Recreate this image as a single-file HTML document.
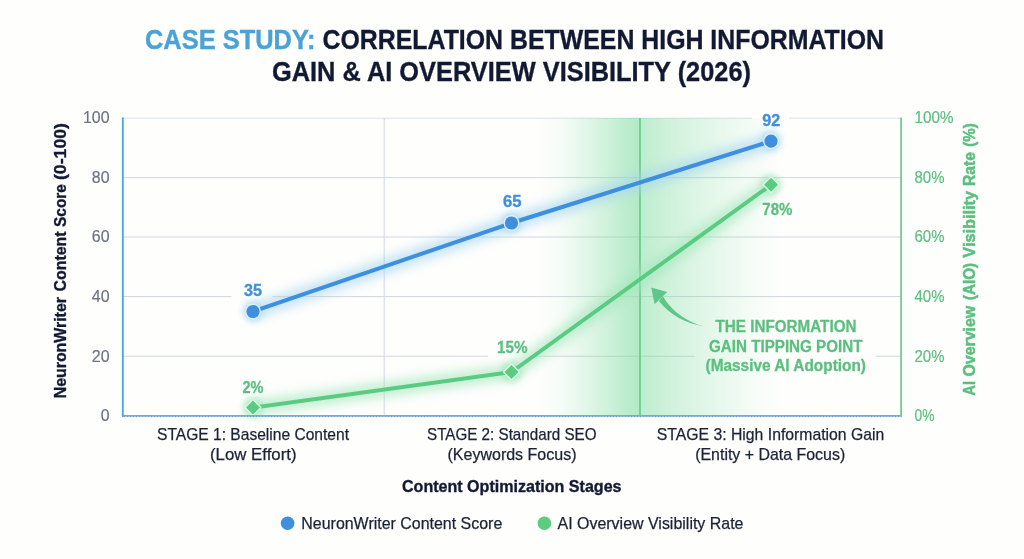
<!DOCTYPE html>
<html lang="en">
<head>
<meta charset="utf-8">
<title>Case Study: Correlation Between High Information Gain &amp; AI Overview Visibility (2026)</title>
<style>
html,body{margin:0;padding:0;background:#fefefd;}
body{width:1024px;height:559px;overflow:hidden;font-family:"Liberation Sans",sans-serif;}
svg{display:block;}
text{font-family:"Liberation Sans",sans-serif;}
.b{font-weight:700;}
.dk{fill:#121a33;stroke:#121a33;stroke-width:0.35px;}
.ax{fill:#6b7485;font-size:16.2px;stroke:#6b7485;stroke-width:0.2px;}
.gx{fill:#5bbf7f;font-size:16.2px;stroke:#5bbf7f;stroke-width:0.2px;}
.cat{fill:#1b2237;font-size:16.4px;stroke:#1b2237;stroke-width:0.25px;}
.bl{fill:#3f8fdb;font-weight:700;font-size:15.8px;stroke:#3f8fdb;stroke-width:0.3px;}
.gl{fill:#5bbf7f;font-weight:700;font-size:16.4px;stroke:#5bbf7f;stroke-width:0.3px;}
</style>
</head>
<body>
<svg width="1024" height="559" viewBox="0 0 1024 559">
<defs>
  <linearGradient id="bandL" x1="0" y1="0" x2="1" y2="0">
    <stop offset="0" stop-color="#7fdca0" stop-opacity="0"/>
    <stop offset="0.2" stop-color="#7fdca0" stop-opacity="0.06"/>
    <stop offset="0.45" stop-color="#7fdca0" stop-opacity="0.21"/>
    <stop offset="0.7" stop-color="#7fdca0" stop-opacity="0.39"/>
    <stop offset="0.9" stop-color="#7fdca0" stop-opacity="0.54"/>
    <stop offset="1" stop-color="#7fdca0" stop-opacity="0.6"/>
  </linearGradient>
  <linearGradient id="bandR" x1="0" y1="0" x2="1" y2="0">
    <stop offset="0" stop-color="#7fdca0" stop-opacity="0.5"/>
    <stop offset="0.07" stop-color="#7fdca0" stop-opacity="0.46"/>
    <stop offset="0.25" stop-color="#7fdca0" stop-opacity="0.34"/>
    <stop offset="0.5" stop-color="#7fdca0" stop-opacity="0.21"/>
    <stop offset="0.75" stop-color="#7fdca0" stop-opacity="0.09"/>
    <stop offset="1" stop-color="#7fdca0" stop-opacity="0"/>
  </linearGradient>
  <filter id="glow" x="-20%" y="-20%" width="140%" height="140%">
    <feGaussianBlur stdDeviation="6"/>
  </filter>
  <filter id="glow2" x="-50%" y="-50%" width="200%" height="200%">
    <feGaussianBlur stdDeviation="3"/>
  </filter>
</defs>
<rect x="0" y="0" width="1024" height="559" fill="#fefefd"/>

<!-- title -->
<text x="145" y="49" class="b" font-size="27.8" textLength="170.5" lengthAdjust="spacingAndGlyphs" fill="#4ba2d7" stroke="#4ba2d7" stroke-width="0.4">CASE STUDY:</text>
<text x="322.5" y="49" class="b dk" font-size="27.8" textLength="561.5" lengthAdjust="spacingAndGlyphs">CORRELATION BETWEEN HIGH INFORMATION</text>
<text x="272" y="80.6" class="b dk" font-size="27.8" textLength="479" lengthAdjust="spacingAndGlyphs">GAIN &amp; AI OVERVIEW VISIBILITY (2026)</text>

<!-- grid -->
<g stroke="#d1d7df" stroke-width="1" fill="none">
  <path d="M123 118.2H752M789 118.2H901" stroke="#d7e2ee"/>
  <path d="M123 177.6H901"/>
  <path d="M123 237H901"/>
  <path d="M123 296.6H231.5M272.5 296.6H901"/>
  <path d="M123 356.2H488M534 356.2H694.6M875.6 356.2H901"/>
  <path d="M384.2 118V415"/>
</g>
<!-- green band -->
<rect x="540" y="118" width="100" height="297.5" fill="url(#bandL)"/>
<rect x="640" y="118" width="140" height="297.5" fill="url(#bandR)"/>

<path d="M640 118V415" stroke="#66cc8b" stroke-width="1.7" fill="none"/>

<!-- glows -->
<path d="M253 311.5L511.5 223L771 141.2" stroke="#a6d6f0" stroke-width="14" fill="none" filter="url(#glow)" opacity="0.7"/>
<path d="M253 407.6L511.5 372L771 184.8" stroke="#a3e6ba" stroke-width="14" fill="none" filter="url(#glow)" opacity="0.7"/>

<g filter="url(#glow2)" opacity="0.8">
  <circle cx="253" cy="311.5" r="10" fill="#a6d6f0"/>
  <circle cx="511.5" cy="223" r="10" fill="#a6d6f0"/>
  <circle cx="771" cy="141.1" r="10" fill="#a6d6f0"/>
  <circle cx="253" cy="407.6" r="10" fill="#a3e6ba"/>
  <circle cx="511.5" cy="372" r="10" fill="#a3e6ba"/>
  <circle cx="771" cy="184.8" r="10" fill="#a3e6ba"/>
</g>

<!-- lines -->
<path d="M253 311.5L511.5 223L771 141.2" stroke="#3f8fe0" stroke-width="4" fill="none" stroke-linejoin="round"/>
<path d="M253 407.6L511.5 372L771 184.8" stroke="#5acc81" stroke-width="4" fill="none" stroke-linejoin="round"/>

<!-- markers -->
<g fill="#3f8fe0" stroke="#def0fa" stroke-width="2.8" paint-order="stroke">
  <circle cx="253" cy="311.5" r="6.6"/>
  <circle cx="511.5" cy="223" r="6.6"/>
  <circle cx="771" cy="141.1" r="6.6"/>
</g>
<g fill="#5acc81" stroke="#def6e6" stroke-width="2.8" paint-order="stroke" stroke-linejoin="round">
  <path d="M253 400.6L260 407.6L253 414.6L246 407.6Z"/>
  <path d="M511.5 365L518.5 372L511.5 379L504.5 372Z"/>
  <path d="M771 177.8L778 184.8L771 191.8L764 184.8Z"/>
</g>

<!-- axes -->
<path d="M122 415.9H902" stroke="#84a9c8" stroke-width="1.8" fill="none"/>
<path d="M124 416.3H900" stroke="#4a9be0" stroke-width="0.9" stroke-dasharray="1 2" fill="none"/>
<path d="M122.8 117.5V416.8" stroke="#4aa2dc" stroke-width="1.8" fill="none"/>
<path d="M901.1 117.5V416.8" stroke="#6fcb90" stroke-width="1.8" fill="none"/>

<!-- data labels -->
<g lengthAdjust="spacingAndGlyphs">
<text x="244" y="296" class="bl" textLength="18" lengthAdjust="spacingAndGlyphs">35</text>
<text x="503" y="206.5" class="bl" textLength="18.5" lengthAdjust="spacingAndGlyphs">65</text>
<text x="762.3" y="125.5" class="bl" textLength="18" lengthAdjust="spacingAndGlyphs">92</text>
<text x="242.5" y="392.5" class="gl" textLength="21" lengthAdjust="spacingAndGlyphs">2%</text>
<text x="497" y="353.4" class="gl" textLength="30.5" lengthAdjust="spacingAndGlyphs">15%</text>
<text x="762.3" y="214.5" class="gl" textLength="30" lengthAdjust="spacingAndGlyphs">78%</text>
</g>

<!-- left axis ticks -->
<g class="ax" text-anchor="end">
  <text x="109.5" y="123.4" textLength="26.5" lengthAdjust="spacingAndGlyphs">100</text>
  <text x="109.5" y="182.9" textLength="17.7" lengthAdjust="spacingAndGlyphs">80</text>
  <text x="109.5" y="242.4" textLength="17.7" lengthAdjust="spacingAndGlyphs">60</text>
  <text x="109.5" y="301.9" textLength="17.7" lengthAdjust="spacingAndGlyphs">40</text>
  <text x="109.5" y="361.5" textLength="17.7" lengthAdjust="spacingAndGlyphs">20</text>
  <text x="109.5" y="421.3" textLength="8.8" lengthAdjust="spacingAndGlyphs">0</text>
</g>
<!-- right axis ticks -->
<g class="gx">
  <text x="914.5" y="123.4" textLength="39" lengthAdjust="spacingAndGlyphs">100%</text>
  <text x="914.5" y="182.9" textLength="30" lengthAdjust="spacingAndGlyphs">80%</text>
  <text x="914.5" y="242.4" textLength="30" lengthAdjust="spacingAndGlyphs">60%</text>
  <text x="914.5" y="301.9" textLength="30" lengthAdjust="spacingAndGlyphs">40%</text>
  <text x="914.5" y="361.5" textLength="30" lengthAdjust="spacingAndGlyphs">20%</text>
  <text x="914.5" y="421.3" textLength="20" lengthAdjust="spacingAndGlyphs">0%</text>
</g>

<!-- axis titles -->
<g>
<text transform="translate(66.3 398.3) rotate(-90)" class="b dk" font-size="17" textLength="101.2" lengthAdjust="spacingAndGlyphs">NeuronWriter</text>
<text transform="translate(66.3 291.4) rotate(-90)" class="b dk" font-size="17" textLength="59.9" lengthAdjust="spacingAndGlyphs">Content</text>
<text transform="translate(66.3 226.9) rotate(-90)" class="b dk" font-size="17" textLength="42.8" lengthAdjust="spacingAndGlyphs">Score</text>
<text transform="translate(66.3 180.1) rotate(-90)" class="b dk" font-size="17" textLength="57.1" lengthAdjust="spacingAndGlyphs">(0-100)</text>
</g>
<g fill="#5bbf7f" stroke="#5bbf7f" stroke-width="0.5">
<text transform="translate(974.6 395.4) rotate(-90)" class="b" font-size="15.8" textLength="14.4" lengthAdjust="spacingAndGlyphs">AI</text>
<text transform="translate(974.6 376.6) rotate(-90)" class="b" font-size="15.8" textLength="70.8" lengthAdjust="spacingAndGlyphs">Overview</text>
<text transform="translate(974.6 300.1) rotate(-90)" class="b" font-size="15.8" textLength="37.2" lengthAdjust="spacingAndGlyphs">(AIO)</text>
<text transform="translate(974.6 257.7) rotate(-90)" class="b" font-size="15.8" textLength="66.8" lengthAdjust="spacingAndGlyphs">Visibility</text>
<text transform="translate(974.6 186.1) rotate(-90)" class="b" font-size="15.8" textLength="34.0" lengthAdjust="spacingAndGlyphs">Rate</text>
<text transform="translate(974.6 146.8) rotate(-90)" class="b" font-size="15.8" textLength="23.5" lengthAdjust="spacingAndGlyphs">(%)</text>
</g>

<!-- annotation -->
<g class="gl" style="font-size:16.8px;fill:#5bbf7f;stroke:#5bbf7f">
  <text x="715.5" y="331.6" textLength="141" lengthAdjust="spacingAndGlyphs">THE INFORMATION</text>
  <text x="709" y="351.6" textLength="153.5" lengthAdjust="spacingAndGlyphs">GAIN TIPPING POINT</text>
  <text x="705.5" y="371" textLength="160.5" lengthAdjust="spacingAndGlyphs">(Massive AI Adoption)</text>
</g>
<path d="M704.2 326.4C688 322.5 672 312 662.9 296.2L658.9 301.1C670 315.5 686 323.5 704.2 326.4Z" fill="#5fc688"/>
<path d="M651.2 287.4L667.2 292.1L654.6 304.2Z" fill="#5fc688"/>

<!-- categories -->
<g class="cat">
  <text x="157" y="440.4" textLength="192" lengthAdjust="spacingAndGlyphs">STAGE 1: Baseline Content</text>
  <text x="210" y="459.9" textLength="86.5" lengthAdjust="spacingAndGlyphs">(Low Effort)</text>
  <text x="427" y="440.4" textLength="169.5" lengthAdjust="spacingAndGlyphs">STAGE 2: Standard SEO</text>
  <text x="447.5" y="459.9" textLength="129" lengthAdjust="spacingAndGlyphs">(Keywords Focus)</text>
  <text x="656.8" y="440.4" textLength="227.5" lengthAdjust="spacingAndGlyphs">STAGE 3: High Information Gain</text>
  <text x="695.2" y="459.9" textLength="150" lengthAdjust="spacingAndGlyphs">(Entity + Data Focus)</text>
</g>
<text x="402" y="491.9" class="b dk" font-size="16.4" textLength="219.5" lengthAdjust="spacingAndGlyphs">Content Optimization Stages</text>

<!-- legend -->
<circle cx="287.6" cy="523.2" r="6.8" fill="#3f8fe0"/>
<text x="301.3" y="529.2" class="cat" textLength="201" lengthAdjust="spacingAndGlyphs">NeuronWriter Content Score</text>
<circle cx="544.4" cy="523.2" r="6.8" fill="#5acd81"/>
<text x="557.5" y="529.2" class="cat" textLength="186" lengthAdjust="spacingAndGlyphs">AI Overview Visibility Rate</text>
</svg>
</body>
</html>
